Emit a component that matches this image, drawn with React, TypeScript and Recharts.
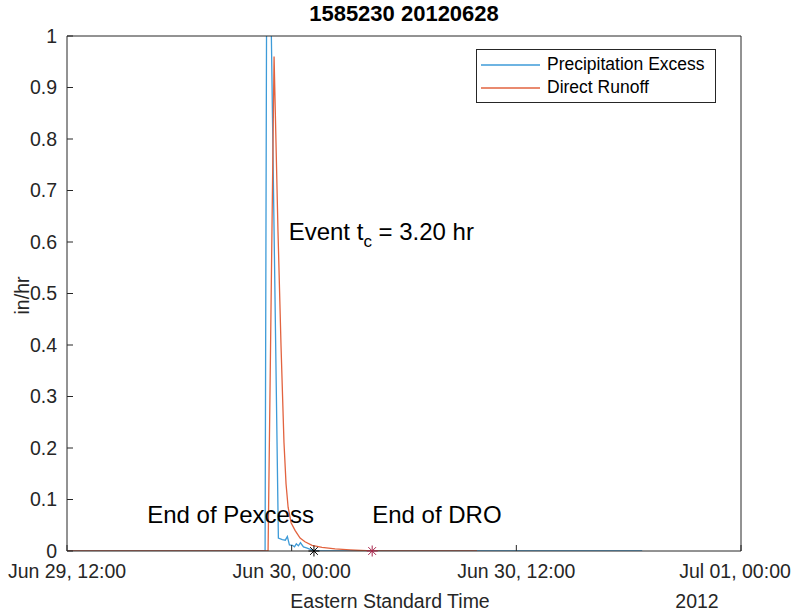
import React from 'react';
import { ComposedChart, Line, Scatter, XAxis, YAxis, Legend } from 'recharts';

const FONT = '"Liberation Sans", Arial, Helvetica, sans-serif';
const AXIS = '#262626';
const BLUE = '#3E9BD8';
const RED = '#E2633F';

// time in hours after Jun 29, 12:00 EST
const xTicks = [0, 12, 24, 36];
const xTickLabels = ['Jun 29, 12:00', 'Jun 30, 00:00', 'Jun 30, 12:00', 'Jul 01, 00:00'];
const yTicks = [0, 0.1, 0.2, 0.3, 0.4, 0.5, 0.6, 0.7, 0.8, 0.9, 1];
const yTickLabels = ['0', '0.1', '0.2', '0.3', '0.4', '0.5', '0.6', '0.7', '0.8', '0.9', '1'];

const seriesNames = ['Precipitation Excess', 'Direct Runoff'];
const seriesColors = [BLUE, RED];

const pexcessTime = [0, 10.58, 10.68, 10.8, 11.29, 11.5, 11.66, 11.77, 11.88, 12.04, 12.15, 12.25, 12.36, 12.47, 12.63, 12.79, 13.0, 13.19, 30.72];
const pexcessValue = [0, 0, 1.3, 1.3, 0.025, 0.022, 0.021, 0.028, 0.012, 0.011, 0.008, 0.014, 0.01, 0.016, 0.008, 0.006, 0.003, 0, 0];

const runoffTime = [0, 10.74, 11.06, 11.27, 11.43, 11.59, 11.7, 11.81, 11.97, 12.18, 12.45, 12.71, 13.09, 13.62, 14.32, 15.12, 16.3, 21.9];
const runoffValue = [0, 0, 0.96, 0.62, 0.4, 0.21, 0.13, 0.085, 0.055, 0.04, 0.025, 0.018, 0.011, 0.007, 0.004, 0.002, 0, 0];

const endTimes = [13.19, 16.3];
const endColors = ['#000000', '#A8244A'];

const notes = [
  { t: 11.84, v: 0.62, text: 'Event t', sub: 'c', rest: ' = 3.20 hr', anchor: 'start' },
  { t: 13.19, v: 0.07, text: 'End of Pexcess', anchor: 'end' },
  { t: 16.3, v: 0.07, text: 'End of DRO', anchor: 'start' },
];

const pexcess = pexcessTime.map((t, i) => ({ t, v: pexcessValue[i] }));
const runoff = runoffTime.map((t, i) => ({ t, v: runoffValue[i] }));
const ends = endTimes.map((t, i) => ({ t, v: 0, color: endColors[i] }));

function Asterisk(props: any) {
  const { cx = 0, cy = 0, payload } = props;
  const r = 5.5;
  const d = r * 0.7071;
  return (
    <g stroke={payload?.color ?? '#000'} strokeWidth={1}>
      <line x1={cx - r} y1={cy} x2={cx + r} y2={cy} />
      <line x1={cx} y1={cy - r} x2={cx} y2={cy + r} />
      <line x1={cx - d} y1={cy - d} x2={cx + d} y2={cy + d} />
      <line x1={cx - d} y1={cy + d} x2={cx + d} y2={cy - d} />
    </g>
  );
}

function NoteText(props: any) {
  const { cx = 0, cy = 0, payload } = props;
  return (
    <text x={cx} y={cy} dy="0.35em" textAnchor={payload.anchor} fontFamily={FONT} fontSize={24} fill="#000">
      {payload.text}
      {payload.sub && (
        <tspan dy={7} fontSize={17}>
          {payload.sub}
        </tspan>
      )}
      {payload.rest && <tspan dy={-7}>{payload.rest}</tspan>}
    </text>
  );
}

function XTick(props: any) {
  const { x = 0, y = 0, payload } = props;
  const idx = xTicks.indexOf(payload.value);
  // keep the last label inside the figure, as the original does
  const shift = idx === xTicks.length - 1 ? -6 : 0;
  return (
    <text x={x + shift} y={y} dy="0.71em" textAnchor="middle" fontFamily={FONT} fontSize={19.5} fill={AXIS}>
      {xTickLabels[idx]}
    </text>
  );
}

function LegendBox() {
  return (
    <div
      style={{
        border: `1px solid ${AXIS}`,
        background: '#fff',
        padding: '3px 4px 3px 4px',
        fontFamily: FONT,
        fontSize: 17.5,
        color: '#000',
        boxSizing: 'border-box',
        width: 240,
        whiteSpace: 'nowrap',
      }}
    >
      {seriesNames.map((name, i) => (
        <div key={name} style={{ display: 'flex', alignItems: 'center', height: 23 }}>
          <svg width={59} height={4} style={{ display: 'block', flex: 'none' }}>
            <line x1={0} y1={2} x2={59} y2={2} stroke={seriesColors[i]} strokeWidth={1.3} />
          </svg>
          <span style={{ marginLeft: 7, lineHeight: '23px' }}>{name}</span>
        </div>
      ))}
    </div>
  );
}

const tickStyle = { fontSize: 19.5, fill: AXIS, fontFamily: FONT };

export default function App() {
  return (
    <div style={{ position: 'absolute', left: 0, top: 0, width: 793, height: 615, background: '#fff' }}>
      <div
        style={{
          position: 'absolute',
          left: 67,
          top: 3,
          width: 674,
          textAlign: 'center',
          fontFamily: FONT,
          fontWeight: 'bold',
          fontSize: 22,
          lineHeight: '22px',
          color: '#000',
        }}
      >
        1585230 20120628
      </div>
      <ComposedChart width={793} height={615} margin={{ top: 35, right: 51, bottom: 0, left: 0 }}>
        <XAxis
          xAxisId="b"
          dataKey="t"
          type="number"
          domain={[0, 36]}
          ticks={xTicks}
          interval={0}
          height={64}
          tickSize={-6}
          tickMargin={19}
          stroke={AXIS}
          tick={(p: any) => <XTick {...p} />}
          label={(p: any) => {
            const vb = p.viewBox;
            return (
              <g fontFamily={FONT} fontSize={19.5} fill={AXIS}>
                <text x={vb.x + vb.width / 2 - 14} y={vb.y + 50} textAnchor="middle" dominantBaseline="central">
                  Eastern Standard Time
                </text>
                <text x={vb.x + vb.width - 44} y={vb.y + 50} textAnchor="middle" dominantBaseline="central">
                  2012
                </text>
              </g>
            );
          }}
        />
        <XAxis
          xAxisId="top"
          dataKey="t"
          orientation="top"
          type="number"
          domain={[0, 36]}
          ticks={xTicks}
          interval={0}
          height={1}
          tickSize={-6}
          stroke={AXIS}
          tick={false}
        />
        <YAxis
          yAxisId="l"
          type="number"
          domain={[0, 1]}
          allowDataOverflow
          ticks={yTicks}
          interval={0}
          tickFormatter={(v: number) => yTickLabels[yTicks.indexOf(v)]}
          width={67}
          tickSize={-6}
          tickMargin={16}
          stroke={AXIS}
          tick={tickStyle}
          label={(p: any) => {
            const vb = p.viewBox;
            const cx = vb.x + 22;
            const cy = vb.y + vb.height / 2 + 2;
            return (
              <text
                x={cx}
                y={cy}
                transform={`rotate(-90 ${cx} ${cy})`}
                textAnchor="middle"
                dominantBaseline="central"
                fontFamily={FONT}
                fontSize={19.5}
                fill={AXIS}
              >
                in/hr
              </text>
            );
          }}
        />
        <YAxis
          yAxisId="r"
          orientation="right"
          type="number"
          domain={[0, 1]}
          ticks={yTicks}
          interval={0}
          width={1}
          tickSize={-6}
          stroke={AXIS}
          tick={false}
        />
        <Line
          xAxisId="b"
          yAxisId="l"
          data={pexcess}
          dataKey="v"
          name={seriesNames[0]}
          type="linear"
          stroke={BLUE}
          strokeWidth={1.3}
          dot={false}
          activeDot={false}
          isAnimationActive={false}
        />
        <Line
          xAxisId="b"
          yAxisId="l"
          data={runoff}
          dataKey="v"
          name={seriesNames[1]}
          type="linear"
          stroke={RED}
          strokeWidth={1.3}
          dot={false}
          activeDot={false}
          isAnimationActive={false}
        />
        <Scatter
          xAxisId="b"
          yAxisId="r"
          data={ends}
          dataKey="v"
          shape={(p: any) => <Asterisk {...p} />}
          legendType="none"
          isAnimationActive={false}
        />
        <Scatter
          xAxisId="b"
          yAxisId="r"
          data={notes}
          dataKey="v"
          shape={(p: any) => <NoteText {...p} />}
          legendType="none"
          isAnimationActive={false}
        />
        <Legend
          layout="vertical"
          align="center"
          verticalAlign="middle"
          content={() => <LegendBox />}
          wrapperStyle={{ left: 476, top: 49, width: 240, height: 54 }}
        />
      </ComposedChart>
    </div>
  );
}
